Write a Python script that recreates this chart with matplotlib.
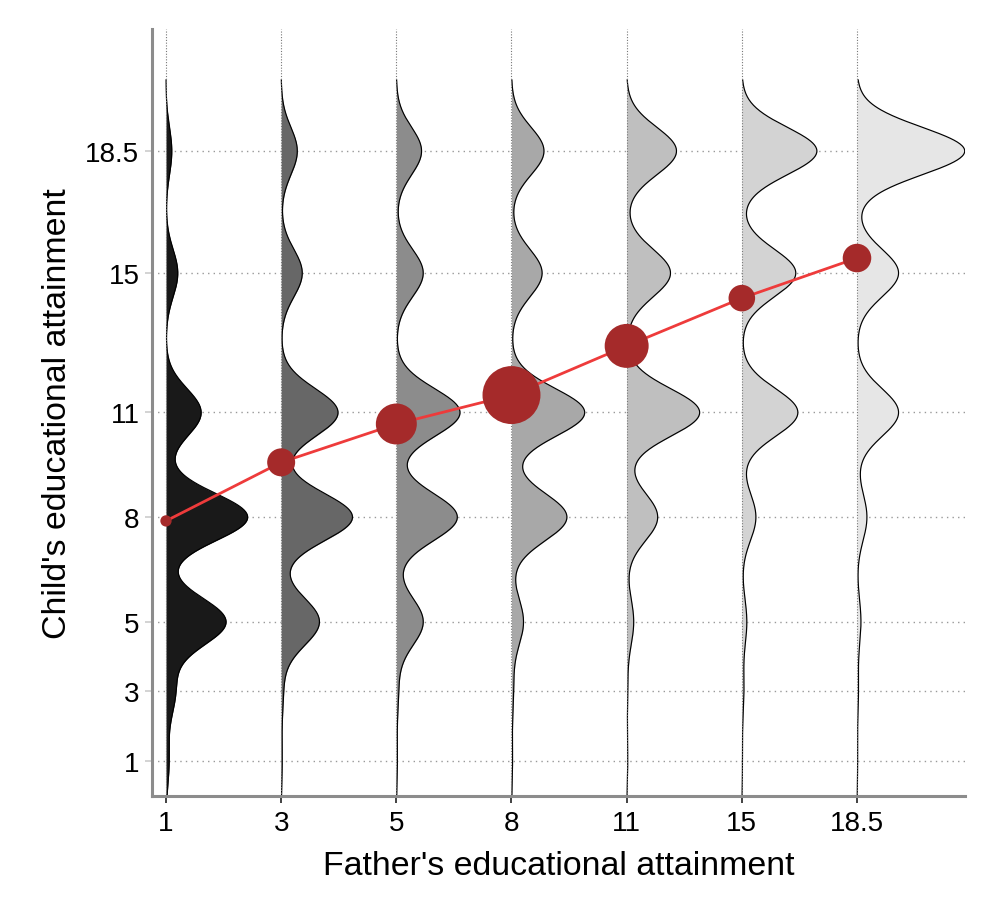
import numpy as np
import matplotlib
matplotlib.use("Agg")
import matplotlib.pyplot as plt

plt.rcParams["font.family"] = ["Liberation Sans", "DejaVu Sans"]

# attainment levels (years), used for both father and child
levels = [1, 3, 5, 8, 11, 15, 18.5]
level_labels = ["1", "3", "5", "8", "11", "15", "18.5"]

# share (%) of children at each attainment level, one list per father's level
child_share_f1 = [1.5, 4.5, 29.0, 39.5, 17.0, 5.7, 2.8]
child_share_f3 = [0.5, 1.0, 18.5, 34.5, 27.5, 10.2, 7.8]
child_share_f5 = [0.5, 1.0, 13.0, 29.5, 30.8, 13.0, 12.2]
child_share_f8 = [0.5, 1.0, 5.8, 26.8, 35.4, 14.8, 15.7]
child_share_f11 = [0.5, 0.5, 3.4, 15.0, 35.3, 21.2, 24.1]
child_share_f15 = [0.3, 1.0, 2.4, 6.8, 27.1, 26.1, 36.3]
child_share_f185 = [0.3, 0.7, 1.9, 4.8, 20.1, 20.1, 52.1]
child_shares = [child_share_f1, child_share_f3, child_share_f5, child_share_f8,
                child_share_f11, child_share_f15, child_share_f185]

# mean child attainment and relative number of fathers per father's level
child_mean = [7.89, 9.57, 10.67, 11.5, 12.91, 14.28, 15.43]
father_count = [32, 196, 420, 841, 484, 177, 204]


bw = 0.68
dens_scale = 3.06
grid = np.linspace(levels[0] - 3 * bw, levels[-1] + 3 * bw, 800)


def density(shares):
    w = np.array(shares) / np.sum(shares)
    d = np.zeros_like(grid)
    for wk, lv in zip(w, levels):
        d += wk * np.exp(-0.5 * ((grid - lv) / bw) ** 2)
    return d / (bw * np.sqrt(2 * np.pi))


# grey ramp like R's grey.colors(7, 0.1, 0.9)
g = np.linspace(0.1 ** 2.2, 0.9 ** 2.2, len(levels)) ** (1 / 2.2)
fills = [(v, v, v) for v in g]

fig = plt.figure(figsize=(9.96, 9.2), dpi=100)
ax = fig.add_axes([0.1526, 0.1337, 0.8163, 0.8337])

pos = np.arange(len(levels))
for i, shares in enumerate(child_shares):
    w = density(shares) * dens_scale
    ax.fill_betweenx(grid, pos[i], pos[i] + w, color=fills[i], lw=0, zorder=1)
    ax.plot(pos[i] + w, grid, color="black", lw=0.85, zorder=2)
    ax.axvline(pos[i], color="#777777", lw=0.8, ls=(0, (1, 1.5)), zorder=2.5)

ax.plot(pos, child_mean, color="#EE3B3B", lw=2, zorder=3)
ax.scatter(pos, child_mean, s=np.array(father_count) * 2.07, color="#A52A2A",
           lw=0, zorder=4)

ax.set_xlim(-0.1216, 6.938)
ax.set_ylim(0, 22)
ax.set_xticks(pos)
ax.set_xticklabels(level_labels)
ax.set_yticks(levels)
ax.set_yticklabels(level_labels)

ax.yaxis.grid(color="#999999", lw=1.0, ls=(0, (1, 3)))
ax.set_axisbelow(True)

for side in ["top", "right"]:
    ax.spines[side].set_visible(False)
for side in ["left", "bottom"]:
    ax.spines[side].set_color("#8c8c8c")
    ax.spines[side].set_linewidth(2.2)

ax.tick_params(axis="x", length=5, width=1.3, color="#333333", pad=5,
               labelsize=20)
ax.tick_params(axis="y", length=5, width=1.3, color="#d0d0d0", pad=4,
               labelsize=20)

ax.set_xlabel("Father's educational attainment", fontsize=24.4, labelpad=10)
ax.set_ylabel("Child's educational attainment", fontsize=24.4, labelpad=9)

plt.savefig("out.png", dpi=100)
plt.close()
